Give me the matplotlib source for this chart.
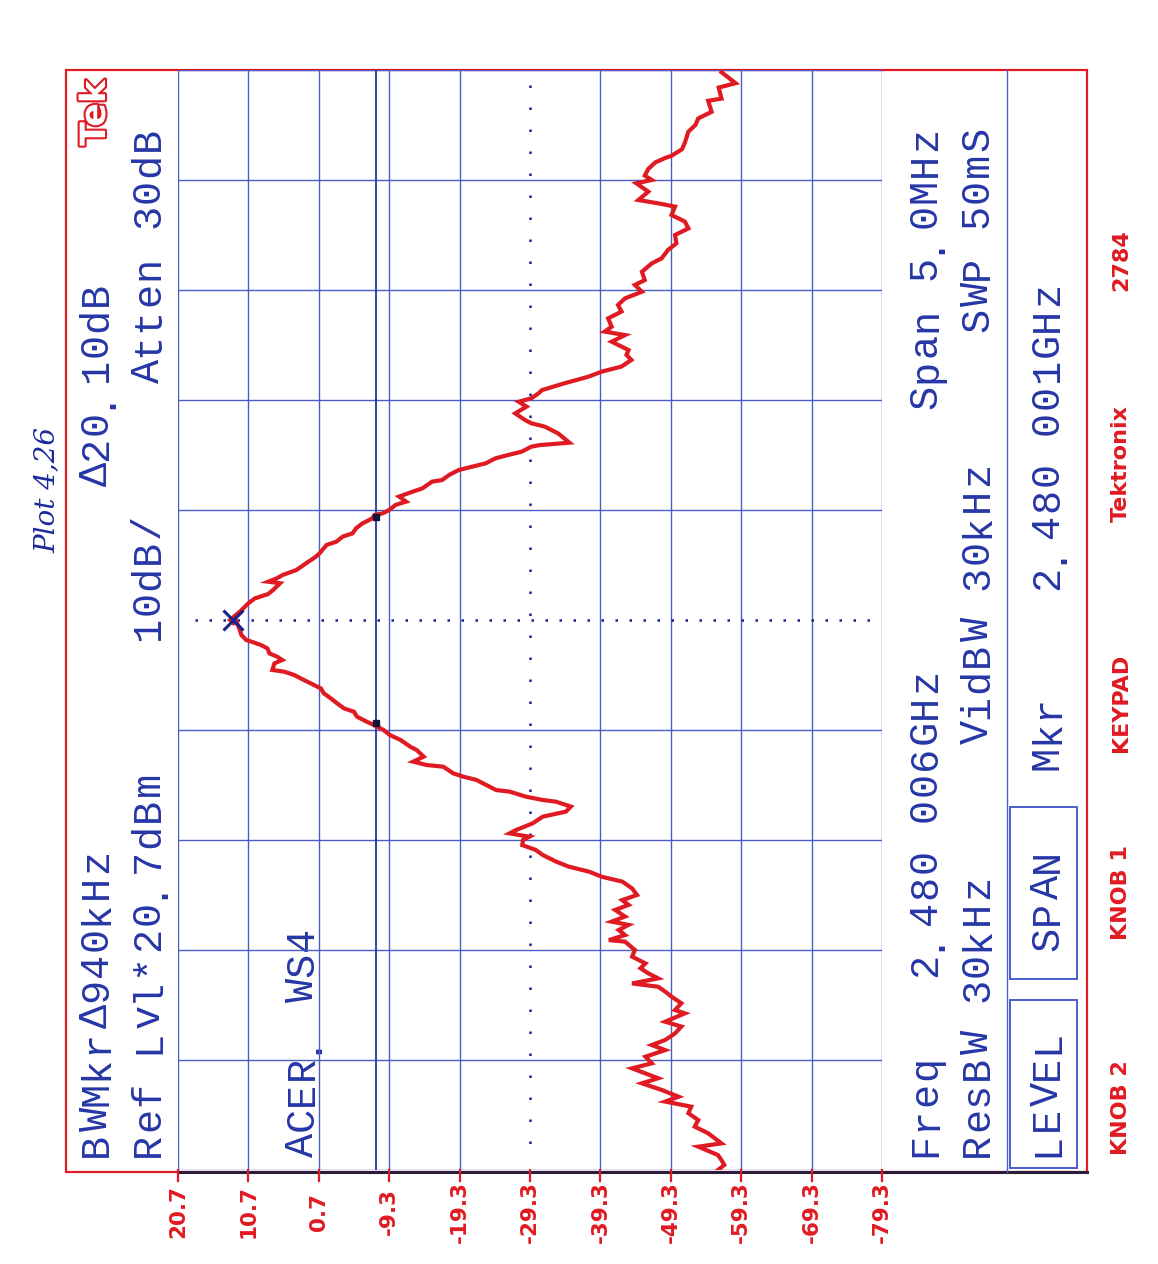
import matplotlib
matplotlib.use("Agg")
import matplotlib.pyplot as plt
import matplotlib.patheffects as pe
from matplotlib.patches import Rectangle

# amplitude graticule (dBm), 10 dB/div
level_ticks = [20.7, 10.7, 0.7, -9.3, -19.3, -29.3, -39.3, -49.3, -59.3, -69.3, -79.3]
tick_labels = ["20.7", "10.7", "0.7", "-9.3", "-19.3", "-29.3", "-39.3",
               "-49.3", "-59.3", "-69.3", "-79.3"]
# frequency graticule, offset from centre in MHz (span 5.0 MHz)
freq_divs = [2.5, 2.0, 1.5, 1.0, 0.5, 0.0, -0.5, -1.0, -1.5, -2.0, -2.5]

# trace: frequency offset (MHz) and level (dBm)
trace_offset = [
    2.49, 2.44, 2.42, 2.37, 2.36, 2.31, 2.28, 2.25, 2.22, 2.17, 2.14, 2.11, 2.10, 2.08,
    2.05, 2.02, 2.00, 1.985, 1.947, 1.909, 1.894, 1.879, 1.841, 1.811, 1.780, 1.750,
    1.712, 1.682, 1.644, 1.621, 1.583, 1.545, 1.523, 1.492, 1.462, 1.432, 1.402, 1.371,
    1.333, 1.311, 1.295, 1.265, 1.227, 1.205, 1.182, 1.152, 1.129, 1.106, 1.076, 1.045,
    1.030, 1.008, 0.992, 0.970, 0.939, 0.909, 0.894, 0.879, 0.848, 0.806, 0.795, 0.788,
    0.765, 0.750, 0.735, 0.712, 0.697, 0.682, 0.659, 0.636, 0.629, 0.598, 0.583, 0.561,
    0.538, 0.523, 0.500, 0.485, 0.477, 0.462, 0.439, 0.417, 0.394, 0.379, 0.356, 0.341,
    0.303, 0.288, 0.258, 0.227, 0.205, 0.189, 0.174, 0.167, 0.136, 0.118, 0.098, 0.076,
    0.038, 0.000, -0.015,
    -0.008, -0.038, -0.068, -0.091, -0.098, -0.114, -0.129, -0.152, -0.167, -0.182,
    -0.197, -0.227, -0.235, -0.250, -0.273, -0.295, -0.311, -0.333, -0.356, -0.379,
    -0.402, -0.417, -0.439, -0.462, -0.477, -0.500, -0.523, -0.545, -0.576, -0.591,
    -0.621, -0.644, -0.659, -0.667, -0.697, -0.712, -0.727, -0.742, -0.773, -0.780,
    -0.803, -0.818, -0.826, -0.848, -0.871, -0.894, -0.924, -0.955, -0.970, -0.985,
    -1.000, -1.023, -1.045, -1.068, -1.098, -1.121, -1.144, -1.167, -1.189, -1.220,
    -1.250, -1.273, -1.295, -1.318, -1.348, -1.371, -1.386, -1.409, -1.432, -1.455,
    -1.462, -1.500, -1.530, -1.561, -1.583, -1.606, -1.629, -1.652, -1.667, -1.689,
    -1.712, -1.742, -1.773, -1.788, -1.826, -1.848, -1.879, -1.909, -1.932, -1.955,
    -1.985, -2.015, -2.038, -2.083, -2.106, -2.136, -2.167, -2.189, -2.212, -2.242,
    -2.273, -2.303, -2.333, -2.379, -2.394, -2.432, -2.455, -2.477, -2.500,
]
trace_level = [
    -56.5, -58.5, -56.1, -56.5, -54.6, -55.1, -53.2, -52.8, -51.8, -51.3, -50.9, -49.4, -48.5, -47.1,
    -46.1, -45.6, -46.6, -44.4, -46.1, -44.7, -47.5, -49.9, -49.4, -51.3, -51.8, -49.9,
    -50.1, -48.9, -48.0, -46.6, -45.2, -45.6, -44.2, -45.2, -42.8, -41.8, -42.3, -40.4,
    -40.9, -39.9, -42.8, -40.9, -43.3, -43.0, -43.7, -42.3, -39.5, -37.6, -34.2, -31.0,
    -30.5, -29.5, -27.7, -28.8, -27.2, -28.6, -29.5, -31.4, -33.3, -34.9, -30.7, -29.5,
    -28.1, -26.2, -24.4, -23.0, -21.1, -19.2, -17.8, -16.8, -15.4, -14.0, -12.6, -10.7,
    -11.7, -10.2, -9.3, -8.4, -7.2, -6.9, -5.5, -4.6, -4.1, -2.7, -1.8, -0.4,
    0.6, 1.1, 2.5, 3.9, 5.8, 6.7, 7.9, 6.2, 7.2, 7.9, 9.8, 10.7,
    11.9, 13.3, 12.8,
    12.4, 12.0, 11.7, 11.0, 10.3, 8.9, 8.0, 7.7, 6.6, 5.9,
    7.0, 7.3, 5.6, 4.2, 2.8, 1.4, 0.4, 0.0, -1.0, -1.9,
    -2.9, -4.3, -4.7, -6.1, -7.1, -8.5, -9.4, -10.9, -12.3, -13.2,
    -14.2, -12.7, -14.6, -17.0, -18.4, -19.8, -21.7, -22.6, -24.5, -26.4,
    -28.7, -31.1, -33.0, -35.1, -34.4, -31.1, -29.7, -27.3, -26.4, -29.2,
    -28.3, -28.2, -30.1, -31.1, -33.0, -34.8, -37.7, -39.5, -42.4, -43.8,
    -44.5, -42.4, -43.3, -41.4, -42.8, -40.9, -43.3, -41.9, -42.8, -40.5,
    -42.8, -44.2, -43.8, -45.7, -45.0, -46.1, -47.5, -43.8, -47.5, -48.5,
    -49.4, -50.8, -49.9, -51.3, -48.5, -50.8, -49.9, -48.5, -46.6, -48.5,
    -45.7, -46.6, -43.8, -47.5, -45.2, -48.0, -50.4, -48.5, -52.2, -51.8,
    -53.2, -52.7, -54.6, -56.5, -53.2, -56.0, -56.5, -56.9, -56.0,
]

peak_offset = 0.0
peak_level = 12.9
bw_offsets = [0.47, -0.47]
bw_level = -7.4

RED = "#e01a22"
BLUE = "#4a5cc8"
INK = "#2636a6"
NAVY = "#1a2288"

fig = plt.figure(figsize=(11.58, 12.64), dpi=100)
fig.patch.set_facecolor("white")

# page layer in pixel coordinates (y down) for the frame and the annotation text
bg = fig.add_axes([0, 0, 1, 1])
bg.set_xlim(0, 1158)
bg.set_ylim(1264, 0)
bg.axis("off")

# graticule / trace layer
ax = fig.add_axes([178 / 1158, 1 - 1170 / 1264, 704 / 1158, 1100 / 1264])
ax.set_xlim(20.7, -79.3)
ax.set_ylim(-2.5, 2.5)
ax.axis("off")

for lv in level_ticks:
    if lv == -29.3:
        ax.plot([lv, lv], [2.43, -2.45], color=NAVY, lw=1.8, ls=(0, (1, 7.8)))
    else:
        ax.axvline(lv, color=BLUE, lw=1.0)
    ax.plot([lv, lv], [-2.5, -2.55], color=RED, lw=1.6, clip_on=False)
for f in freq_divs:
    if f == 0.0:
        ax.plot([18.3, -78.3], [f, f], color=NAVY, lw=1.8, ls=(0, (1, 4.6)))
    else:
        ax.axhline(f, color=BLUE, lw=1.0)

# BW marker display line
ax.axvline(bw_level, color="#2434a0", lw=1.3)

ax.plot(trace_level, trace_offset, color=RED, lw=3.0, solid_joinstyle="miter")
ax.plot([bw_level] * len(bw_offsets), bw_offsets, "s", color="#141438", ms=5)
ax.plot(peak_level, peak_offset, marker="x", ms=15, mew=2.2, color=NAVY)

for lv, lab in zip(level_ticks, tick_labels):
    ax.text(lv, -2.69, lab, rotation=90, ha="center", va="center", color=RED,
            fontsize=15.5, fontweight="bold", clip_on=False)

# frame
bg.add_patch(Rectangle((66, 70), 1021, 1102, fill=False, ec=RED, lw=1.6))
bg.plot([178, 1087], [1172, 1172], color="#2b1c3c", lw=2.2)
bg.plot([1007, 1007], [70, 1172], color=BLUE, lw=1.0)
bg.add_patch(Rectangle((1010, 1000), 67, 168, fill=False, ec=BLUE, lw=1.4))
bg.add_patch(Rectangle((1010, 807), 67, 172, fill=False, ec=BLUE, lw=1.4))

mono_font = ["Liberation Mono", "DejaVu Sans Mono"]
pitch = 25.8


def screen_text(x_base, col, s):
    for i, ch in enumerate(s):
        if ch == " ":
            continue
        yc = 1158 - (col + i + 0.5) * pitch
        bg.text(x_base, yc, ch, rotation=90, rotation_mode="anchor", ha="center",
                va="baseline", color=INK, fontsize=29, family=mono_font)


screen_text(107, 0, "BWMkrΔ940kHz")
screen_text(107, 26, "Δ20.10dB")
screen_text(159, 0, "Ref Lvl*20.7dBm")
screen_text(159, 20, "10dB/")
screen_text(159, 30, "Atten 30dB")
screen_text(313, 0, "ACER. WS4")
screen_text(936, 0, "Freq")
screen_text(936, 7, "2.480 006GHz")
screen_text(936, 29, "Span 5.0MHz")
screen_text(988, 0, "ResBW 30kHz")
screen_text(988, 16, "VidBW 30kHz")
screen_text(988, 32, "SWP 50mS")
screen_text(1058, 0, "LEVEL")
screen_text(1058, 8, "SPAN")
screen_text(1058, 15, "Mkr")
screen_text(1058, 22, "2.480 001GHz")

for y, s in [(1108, "KNOB 2"), (893, "KNOB 1"), (703, "KEYPAD"), (463, "Tektronix"), (260, "2784")]:
    bg.text(1127, y, s, rotation=90, rotation_mode="anchor", ha="center", va="baseline",
            color=RED, fontsize=16, fontweight="bold")

bg.text(95, 113, "Tek", rotation=90, ha="center", va="center", fontsize=25,
        fontweight="bold", color="white",
        path_effects=[pe.withStroke(linewidth=3, foreground=RED)])

bg.text(47, 490, "Plot 4,26", rotation=90, ha="center", va="center", fontsize=20,
        style="italic", color="#1c2a9a", family="DejaVu Serif")

fig.savefig("out.png", dpi=100)
